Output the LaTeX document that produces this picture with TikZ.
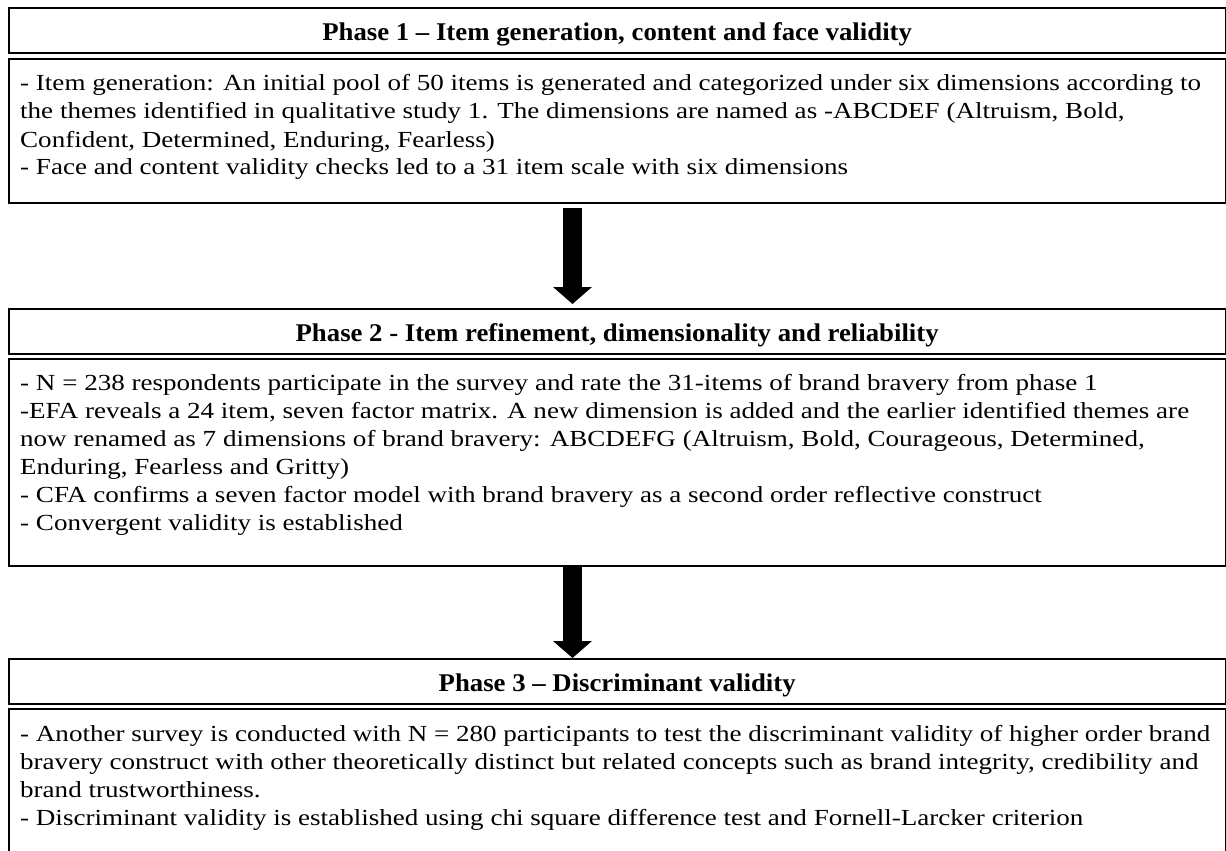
\documentclass[tikz,border=0pt]{standalone}
\usepackage{fontspec}
\setmainfont[FakeStretch=1.176]{Liberation Serif}
\newfontfamily\hdrfont[FakeStretch=1.05]{Liberation Serif}
\usetikzlibrary{arrows.meta}
\begin{document}
\begin{tikzpicture}[x=1pt,y=-1pt,
  frame/.style={draw=black, line width=2.3pt, rectangle, inner sep=0pt, minimum width=1217pt, anchor=north west},
  hdr/.style={frame, font=\hdrfont\fontsize{25.5}{28}\selectfont\bfseries, text height=32pt, text depth=13pt},
  bodybox/.style={frame},
  txt/.style={anchor=base west, inner sep=0pt, font=\fontsize{23}{28}\selectfont},
  bigarrow/.style={line width=19pt, -{Triangle[width=38pt,length=17pt]}}]
\useasboundingbox (0,0) rectangle (1226,851);
\fill[white] (0,0) rectangle (1226,851);

% Phase 1
\node[hdr] (h1) at (7.5,7) {Phase 1 – Item generation, content and face validity};
\node[bodybox, minimum height=144pt] (b1) at (7.5,58) {};
\node[txt] (t1) at (20,91) {\parbox[t]{1300pt}{\raggedright
- Item generation: An initial pool of 50 items is generated and categorized under six dimensions according to\\
the themes identified in qualitative study 1. The dimensions are named as -ABCDEF (Altruism, Bold,\\
Confident, Determined, Enduring, Fearless)\\
- Face and content validity checks led to a 31 item scale with six dimensions}};

% Phase 2
\node[hdr] (h2) at (7.5,308) {Phase 2 - Item refinement, dimensionality and reliability};
\node[bodybox, minimum height=207pt] (b2) at (7.5,358) {};
\node[txt] (t2) at (20,390) {\parbox[t]{1300pt}{\raggedright
- N = 238 respondents participate in the survey and rate the 31-items of brand bravery from phase 1\\
-EFA reveals a 24 item, seven factor matrix. A new dimension is added and the earlier identified themes are\\
now renamed as 7 dimensions of brand bravery: ABCDEFG (Altruism, Bold, Courageous, Determined,\\
Enduring, Fearless and Gritty)\\
- CFA confirms a seven factor model with brand bravery as a second order reflective construct\\
- Convergent validity is established}};

% Phase 3
\node[hdr] (h3) at (7.5,658) {Phase 3 – Discriminant validity};
\node[bodybox, minimum height=150pt] (b3) at (7.5,708) {};
\node[txt] (t3) at (20,741) {\parbox[t]{1300pt}{\raggedright
- Another survey is conducted with N = 280 participants to test the discriminant validity of higher order brand\\
bravery construct with other theoretically distinct but related concepts such as brand integrity, credibility and\\
brand trustworthiness.\\
- Discriminant validity is established using chi square difference test and Fornell-Larcker criterion}};

% Arrows
\coordinate (a1s) at (572.5,208);
\coordinate (a1e) at (572.5,304);
\coordinate (a2s) at (572.5,566);
\coordinate (a2e) at (572.5,658);
\draw[bigarrow] (a1s) -- (a1e);
\draw[bigarrow] (a2s) -- (a2e);
\end{tikzpicture}
\end{document}
